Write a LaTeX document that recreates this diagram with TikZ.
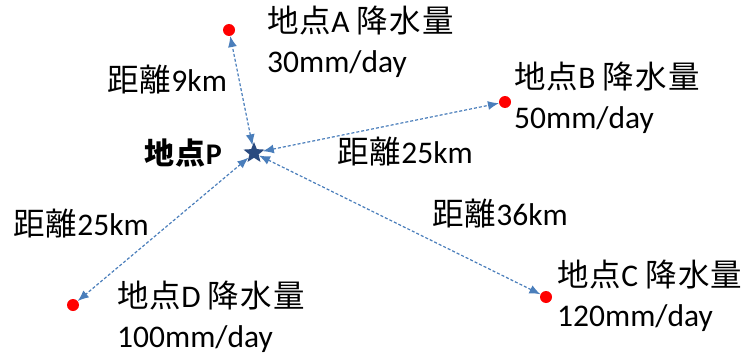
\documentclass[tikz,border=0pt]{standalone}
\usepackage{fontspec}
\setmainfont{Carlito}
\newfontfamily\cjk[LetterSpace=4]{Noto Sans CJK JP}
\usetikzlibrary{calc,shapes.geometric,arrows.meta}

\definecolor{linkblue}{HTML}{4A7EBB}
\definecolor{starblue}{HTML}{2A4A7F}

\tikzset{
  dot/.style={circle, fill=red, inner sep=0pt, minimum size=12pt},
  site/.style={star, star points=5, star point ratio=2.3, fill=starblue,
    inner sep=0pt, minimum size=22pt},
  dist/.style={<->, >={Latex[length=11pt,width=9pt]}, linkblue,
    line width=1.2pt, dash pattern=on 3pt off 2pt},
  rain/.style={anchor=west, align=left, inner sep=0pt,
    font=\fontsize{31.5}{40}\selectfont},
  km/.style={anchor=west, inner sep=0pt, font=\fontsize{31.5}{36}\selectfont},
}

\begin{document}
\begin{tikzpicture}[x=1pt, y=-1pt]
    \useasboundingbox (0,0) rectangle (747,361);

    \node[site] (s) at (254,153) {};
    \node (ls) at ($(s)+(-32,0)$) [anchor=east, inner sep=0pt,
      font=\fontsize{30}{36}\selectfont\bfseries] {{\cjk 地点}P};

    \node[dot] (a1) at (229,30) {};
    \node[rain] (l1) at ($(a1)+(38,12)$) {{\cjk 地点}A {\cjk 降水量}\\30mm/day};

    \node[dot] (a2) at (505,102) {};
    \node[rain] (l2) at ($(a2)+(9,-4)$) {{\cjk 地点}B {\cjk 降水量}\\50mm/day};

    \node[dot] (a3) at (546,297) {};
    \node[rain] (l3) at ($(a3)+(11,-1)$) {{\cjk 地点}C {\cjk 降水量}\\120mm/day};

    \node[dot] (a4) at (73,305) {};
    \node[rain] (l4) at ($(a4)+(44,12)$) {{\cjk 地点}D {\cjk 降水量}\\100mm/day};

    \draw[dist] (s) -- (a1);
    \draw[dist] (s) -- (a2);
    \draw[dist] (s) -- (a3);
    \draw[dist] (s) -- (a4);

    \node[km] (k1) at (107,80) {{\cjk 距離}9km};
    \node[km] (k2) at (337,152) {{\cjk 距離}25km};
    \node[km] (k3) at (432,214) {{\cjk 距離}36km};
    \node[km] (k4) at (13,224) {{\cjk 距離}25km};
\end{tikzpicture}
\end{document}
